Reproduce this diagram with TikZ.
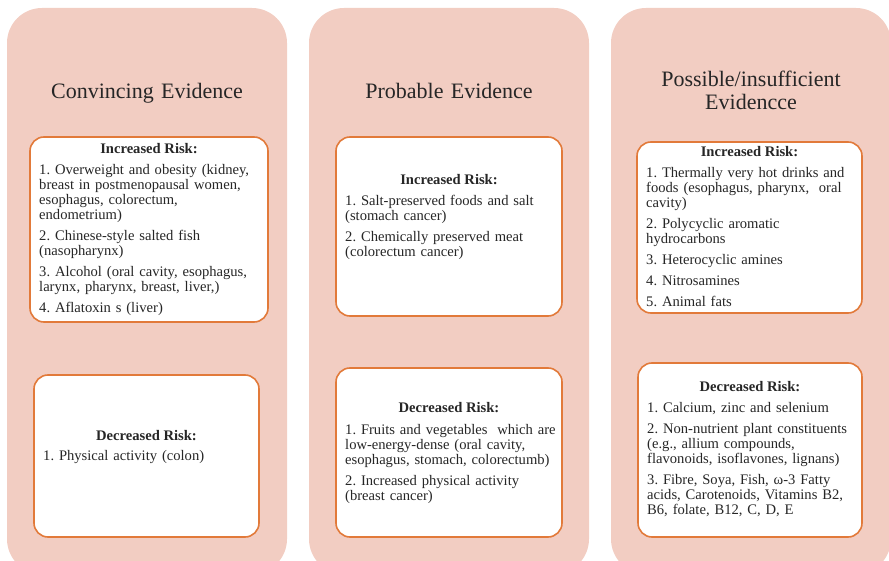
\documentclass[tikz,border=0pt]{standalone}
\usepackage{fontspec}
\setmainfont{Liberation Serif}
\frenchspacing
\usetikzlibrary{positioning}
\definecolor{panelfill}{RGB}{242,205,194}
\definecolor{boxline}{RGB}{226,122,58}
\definecolor{textgray}{RGB}{38,38,38}
\tikzset{
  panel/.style={rectangle,rounded corners=35pt,fill=panelfill,draw=none,minimum width=280pt,minimum height=566pt,inner sep=0pt},
  riskbox/.style={rectangle,rounded corners=14pt,draw=boxline,line width=1.6pt,fill=white,inner sep=0pt},
  title/.style={anchor=base,inner sep=0pt,text=textgray,text width=260pt,align=center,font=\fontsize{22}{23.3}\selectfont},
  riskhd/.style={anchor=base,inner sep=0pt,text=textgray,font=\fontsize{14.6}{15}\selectfont\bfseries},
  risktxt/.style={anchor=base west,inner sep=0pt,text=textgray,text width=230pt,align=left,font=\fontsize{14.6}{15}\selectfont\frenchspacing,execute at begin node={\setlength{\parskip}{6pt}}},
}
\begin{document}
\begin{tikzpicture}[x=1pt,y=-1pt]
  \useasboundingbox (0,0) rectangle (889,561);
  \clip (0,0) rectangle (889,561);
  % columns
  \node[panel] (conv) at (147,291) {};
  \node[panel] (prob) at (449,291) {};
  \node[panel] (poss) at (751,291) {};
  \node[title] (convtitle) at (147,98.3) {Convincing Evidence};
  \node[title] (probtitle) at (449,98.3) {Probable Evidence};
  \node[title] (posstitle) at (751,86.7) {Possible/insufficient\\ Evidencce};
  % convincing
  \node[riskbox,minimum width=238pt,minimum height=185pt] (convinc) at (149,229.5) {};
  \node[riskhd] (convinchd) at (149,153.3) {Increased Risk:};
  \node[risktxt] (convinctxt) at (39,175) {1. Overweight and obesity (kidney,\\ breast in postmenopausal women,\\ esophagus, colorectum,\\ endometrium)\par
    2. Chinese-style salted fish\\ (nasopharynx)\par
    3. Alcohol (oral cavity, esophagus,\\ larynx, pharynx, breast, liver,)\par
    4. Aflatoxin s (liver)};
  \node[riskbox,minimum width=225pt,minimum height=162pt] (convdec) at (146.5,456) {};
  \node[riskhd] (convdechd) at (146.5,440) {Decreased Risk:};
  \node[risktxt] (convdectxt) at (43,460.7) {1. Physical activity (colon)};
  % probable
  \node[riskbox,minimum width=226pt,minimum height=179pt] (probinc) at (449,226.5) {};
  \node[riskhd] (probinchd) at (449,185) {Increased Risk:};
  \node[risktxt] (probinctxt) at (345,206) {1. Salt-preserved foods and salt\\ (stomach cancer)\par
    2. Chemically preserved meat\\ (colorectum cancer)};
  \node[riskbox,minimum width=226pt,minimum height=169pt] (probdec) at (449,452.5) {};
  \node[riskhd] (probdechd) at (449,412.7) {Decreased Risk:};
  \node[risktxt] (probdectxt) at (345,434) {1. Fruits and vegetables~ which are\\ low-energy-dense (oral cavity,\\ esophagus, stomach, colorectumb)\par
    2. Increased physical activity\\ (breast cancer)};
  % possible
  \node[riskbox,minimum width=225pt,minimum height=171pt] (possinc) at (749.5,227.5) {};
  \node[riskhd] (possinchd) at (749.5,156.7) {Increased Risk:};
  \node[risktxt] (possinctxt) at (646,177.7) {1. Thermally very hot drinks and\\ foods (esophagus, pharynx,~ oral\\ cavity)\par
    2. Polycyclic aromatic\\ hydrocarbons\par
    3. Heterocyclic amines\par
    4. Nitrosamines\par
    5. Animal fats};
  \node[riskbox,minimum width=224pt,minimum height=174pt] (possdec) at (750,450) {};
  \node[riskhd] (possdechd) at (750,391.7) {Decreased Risk:};
  \node[risktxt] (possdectxt) at (647,412.7) {1. Calcium, zinc and selenium\par
    2. Non-nutrient plant constituents\\ (e.g., allium compounds,\\ flavonoids, isoflavones, lignans)\par
    3. Fibre, Soya, Fish, ω-3 Fatty\\ acids, Carotenoids, Vitamins B2,\\ B6, folate, B12, C, D, E};
\end{tikzpicture}
\end{document}
